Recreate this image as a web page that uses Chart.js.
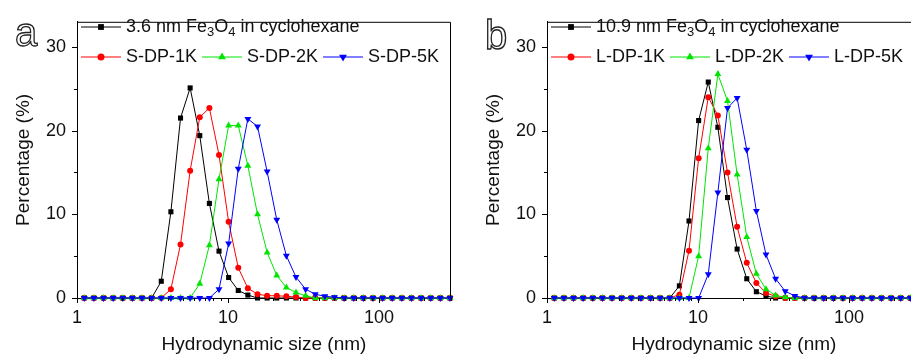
<!DOCTYPE html>
<html>
<head>
<meta charset="utf-8">
<script src="https://cdn.jsdelivr.net/npm/chart.js@4.4.1/dist/chart.umd.min.js"></script>
<style>
  html, body { margin: 0; padding: 0; background: #fff; }
  body { width: 911px; height: 356px; overflow: hidden; position: relative; }
  canvas { position: absolute; top: 0; }
  #chartA { left: 0; }
  #chartB { left: 470px; }
</style>
</head>
<body>
<canvas id="chartA" width="455" height="356"></canvas>
<canvas id="chartB" width="455" height="356"></canvas>
<script>
// size bins (nm) of the DLS instrument
const sizes = [1.117, 1.294, 1.499, 1.736, 2.010, 2.328, 2.696, 3.122, 3.615, 4.187,
  4.849, 5.615, 6.503, 7.531, 8.721, 10.10, 11.70, 13.54, 15.69, 18.17,
  21.04, 24.36, 28.21, 32.67, 37.84, 43.82, 50.75, 58.77, 68.06, 78.82,
  91.28, 105.7, 122.4, 141.8, 164.2, 190.1, 220.2, 255.0, 295.3];

// panel a
const labelsA = ['3.6 nm Fe_3O_4 in cyclohexane', 'S-DP-1K', 'S-DP-2K', 'S-DP-5K'];
const fe36 = [0, 0, 0, 0, 0, 0, 0, 0, 2.0, 10.3, 21.5, 25.1, 19.4, 11.3, 5.6, 2.45, 0.9, 0.35,
  0, 0, 0, 0, 0, 0, 0, 0, 0, 0, 0, 0, 0, 0, 0, 0, 0, 0, 0, 0, 0];
const sdp1k = [0, 0, 0, 0, 0, 0, 0, 0, 0, 1.05, 6.4, 15.2, 21.6, 22.7, 17.1, 9.1, 3.6, 1.17,
  0.45, 0.27, 0.27, 0.2, 0.12, 0, 0, 0, 0, 0, 0, 0, 0, 0, 0, 0, 0, 0, 0, 0, 0];
const sdp2k = [0, 0, 0, 0, 0, 0, 0, 0, 0, 0, 0, 0, 1.7, 6.3, 14.2, 20.6, 20.6, 15.8,
  10.0, 5.45, 2.7, 1.25, 0.65, 0.27, 0, 0, 0, 0, 0, 0, 0, 0, 0, 0, 0, 0, 0, 0, 0];
const sdp5k = [0, 0, 0, 0, 0, 0, 0, 0, 0, 0, 0, 0, 0, 0, 1.05, 6.5, 15.45, 21.4,
  20.5, 15.1, 9.35, 5.05, 2.5, 1.05, 0.45, 0.2, 0.1, 0, 0, 0, 0, 0, 0, 0, 0, 0, 0, 0, 0];

// panel b
const labelsB = ['10.9 nm Fe_3O_4 in cyclohexane', 'L-DP-1K', 'L-DP-2K', 'L-DP-5K'];
const fe109 = [0, 0, 0, 0, 0, 0, 0, 0, 0, 0, 0, 0, 0, 1.45, 9.2, 21.2, 25.8, 20.4,
  12.0, 5.85, 2.3, 0.75, 0.25, 0, 0, 0, 0, 0, 0, 0, 0, 0, 0, 0, 0, 0, 0, 0, 0];
const ldp1k = [0, 0, 0, 0, 0, 0, 0, 0, 0, 0, 0, 0, 0, 0.4, 5.65, 16.7, 24.0, 21.8,
  15.0, 8.5, 4.2, 1.8, 0.6, 0.2, 0, 0, 0, 0, 0, 0, 0, 0, 0, 0, 0, 0, 0, 0, 0];
const ldp2k = [0, 0, 0, 0, 0, 0, 0, 0, 0, 0, 0, 0, 0, 0, 0, 5.0, 17.9, 26.75,
  23.55, 14.75, 7.3, 2.9, 1.05, 0.3, 0.1, 0, 0, 0, 0, 0, 0, 0, 0, 0, 0, 0, 0, 0, 0];
const ldp5k = [0, 0, 0, 0, 0, 0, 0, 0, 0, 0, 0, 0, 0, 0, 0, 0, 2.85, 12.6,
  22.7, 23.9, 17.7, 10.4, 5.2, 2.3, 0.8, 0.25, 0, 0, 0, 0, 0, 0, 0, 0, 0, 0, 0, 0, 0];

// axes
const xMajor = [1, 10, 100];
const xMinor = [2, 3, 4, 5, 6, 7, 8, 9, 20, 30, 40, 50, 60, 70, 80, 90, 200, 300];
const yMajor = [0, 10, 20, 30];
const yMinor = [5, 15, 25];

const FONT = "'Liberation Sans', Arial, sans-serif";
Chart.defaults.font.family = FONT;
Chart.defaults.color = '#111';

const styles = [
  { color: '#000000', pointStyle: 'rect', radius: 3.6, rotation: 0 },
  { color: '#ff0000', pointStyle: 'circle', radius: 3, rotation: 0 },
  { color: '#00e600', pointStyle: 'triangle', radius: 4, rotation: 0 },
  { color: '#0000ff', pointStyle: 'triangle', radius: 4, rotation: 180 }
];

function makeSets(series, labels) {
  return series.map((vals, i) => ({
    label: labels[i],
    data: sizes.map((s, k) => ({ x: s, y: vals[k] })),
    borderColor: styles[i].color,
    backgroundColor: styles[i].color,
    borderWidth: 1,
    pointStyle: styles[i].pointStyle,
    pointRadius: styles[i].radius,
    pointRotation: styles[i].rotation,
    pointBorderWidth: 0,
    tension: 0,
    clip: false,
    order: 3 - i
  }));
}

// text with _digit subscripts
function drawRich(ctx, str, x, y) {
  const parts = str.split(/_(\d)/);
  parts.forEach((p, i) => {
    if (i % 2) {
      ctx.font = '13px ' + FONT;
      ctx.fillText(p, x, y + 5);
    } else {
      ctx.font = '18px ' + FONT;
      ctx.fillText(p, x, y);
    }
    x += ctx.measureText(p).width;
  });
  return x;
}

const decor = {
  id: 'decor',
  afterDraw(chart, args, opts) {
    const ctx = chart.ctx;
    const a = chart.chartArea;
    const xs = chart.scales.x, ys = chart.scales.y;
    ctx.save();
    // frame top / right
    ctx.strokeStyle = '#000';
    ctx.lineWidth = 1;
    ctx.beginPath();
    ctx.moveTo(a.left, a.top + 0.5);
    ctx.lineTo(a.right - 0.5, a.top + 0.5);
    ctx.lineTo(a.right - 0.5, a.bottom);
    ctx.stroke();
    // ticks (outward)
    ctx.beginPath();
    xMajor.forEach(v => { const px = Math.round(xs.getPixelForValue(v)) + 0.5; ctx.moveTo(px, a.bottom); ctx.lineTo(px, a.bottom + 5); });
    xMinor.forEach(v => { const px = Math.round(xs.getPixelForValue(v)) + 0.5; ctx.moveTo(px, a.bottom); ctx.lineTo(px, a.bottom + 3); });
    yMajor.forEach(v => { const py = Math.round(ys.getPixelForValue(v)) + 0.5; ctx.moveTo(a.left, py); ctx.lineTo(a.left - 5, py); });
    yMinor.forEach(v => { const py = Math.round(ys.getPixelForValue(v)) + 0.5; ctx.moveTo(a.left, py); ctx.lineTo(a.left - 3, py); });
    ctx.stroke();
    // panel letter, outlined
    ctx.font = '40px ' + FONT;
    ctx.textBaseline = 'alphabetic';
    ctx.lineWidth = 1.3;
    ctx.strokeStyle = '#222';
    ctx.strokeText(opts.letter, 15, opts.letterY);
    // legend
    ctx.textBaseline = 'middle';
    const sets = chart.data.datasets;
    opts.rows.forEach(row => {
      let x = a.left + 4;
      row.idx.forEach(i => {
        const st = styles[i];
        ctx.strokeStyle = st.color;
        ctx.fillStyle = st.color;
        ctx.lineWidth = 1;
        ctx.beginPath();
        ctx.moveTo(x, row.y);
        ctx.lineTo(x + 40, row.y);
        ctx.stroke();
        Chart.helpers.drawPoint(ctx, { pointStyle: st.pointStyle, rotation: st.rotation, radius: st.radius + 0.5, borderWidth: 0 }, x + 20, row.y);
        ctx.fillStyle = '#111';
        x = drawRich(ctx, sets[i].label, x + 45, row.y) + 5;
      });
    });
    ctx.restore();
  }
};

function makeChart(id, series, labels, letter, letterY) {
  return new Chart(document.getElementById(id), {
    type: 'line',
    data: { datasets: makeSets(series, labels) },
    options: {
      responsive: false,
      animation: false,
      layout: { padding: { top: 16, right: 2, left: 0, bottom: 0 } },
      plugins: {
        legend: { display: false },
        tooltip: { enabled: false },
        decor: { letter: letter, letterY: letterY, rows: [{ y: 27, idx: [0] }, { y: 57, idx: [1, 2, 3] }] }
      },
      scales: {
        x: {
          type: 'logarithmic',
          min: 1, max: 300,
          grid: { display: false, drawTicks: false },
          border: { display: true, color: '#000', width: 1 },
          afterBuildTicks: s => { s.ticks = xMajor.map(v => ({ value: v })); },
          afterFit: s => { s.height = 58; },
          ticks: { padding: 9, font: { size: 18 }, color: '#111', maxRotation: 0, callback: v => String(v) },
          title: { display: true, text: 'Hydrodynamic size (nm)', font: { size: 19 }, color: '#111', padding: { top: 0, bottom: 0 } }
        },
        y: {
          min: 0, max: 33,
          grid: { display: false, drawTicks: false },
          border: { display: true, color: '#000', width: 1 },
          afterBuildTicks: s => { s.ticks = yMajor.map(v => ({ value: v })); },
          afterFit: s => { s.width = 77; },
          ticks: { padding: 11, font: { size: 18 }, color: '#111' },
          title: { display: true, text: 'Percentage (%)', font: { size: 19 }, color: '#111', padding: { top: 12, bottom: 0 } }
        }
      }
    },
    plugins: [decor]
  });
}

makeChart('chartA', [fe36, sdp1k, sdp2k, sdp5k], labelsA, 'a', 46);
makeChart('chartB', [fe109, ldp1k, ldp2k, ldp5k], labelsB, 'b', 49);
</script>
</body>
</html>
